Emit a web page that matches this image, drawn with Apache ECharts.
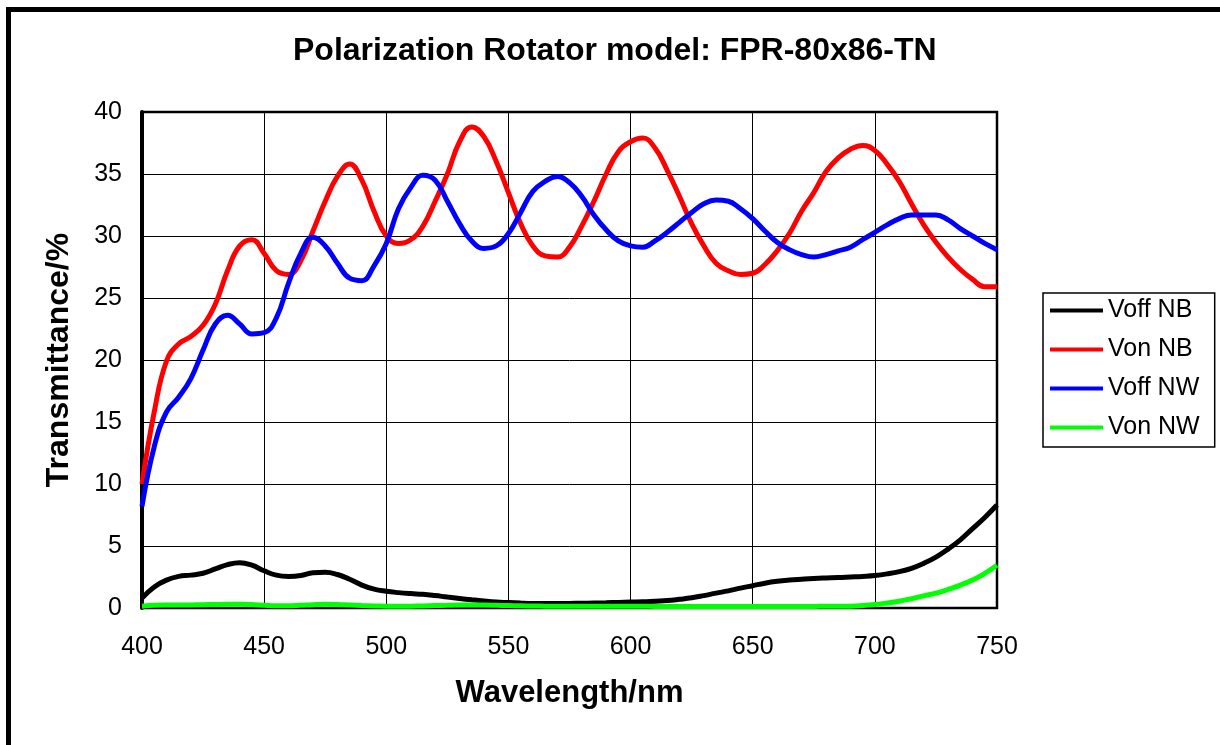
<!DOCTYPE html>
<html>
<head>
<meta charset="utf-8">
<script src="https://cdn.jsdelivr.net/npm/echarts@6/dist/echarts.min.js"></script>
<style>html,body{margin:0;padding:0;background:#fff;}#c{width:1220px;height:745px;}</style>
</head>
<body>
<div id="c"></div>
<script>
var wavelength = [400,405,410,415,420,425,430,435,440,445,450,455,460,465,470,475,480,485,490,495,500,505,510,515,520,525,530,535,540,545,550,555,560,565,570,575,580,585,590,595,600,605,610,615,620,625,630,635,640,645,650,655,660,665,670,675,680,685,690,695,700,705,710,715,720,725,730,735,740,745,750];

var voffNB = [0.8,1.7,2.25,2.55,2.65,2.8,3.15,3.5,3.65,3.45,3.0,2.65,2.55,2.62,2.85,2.88,2.7,2.32,1.85,1.52,1.35,1.24,1.16,1.1,1.0,0.88,0.77,0.66,0.56,0.48,0.44,0.4,0.37,0.36,0.36,0.37,0.38,0.4,0.42,0.45,0.48,0.5,0.55,0.6,0.7,0.82,1.0,1.2,1.38,1.6,1.8,2.0,2.15,2.25,2.32,2.38,2.42,2.45,2.5,2.55,2.62,2.75,2.93,3.2,3.6,4.1,4.75,5.5,6.4,7.3,8.3];

var vonNB = [10.0,15.8,19.9,21.3,21.9,22.8,24.5,27.2,29.2,29.7,28.6,27.2,26.9,28.0,30.4,32.8,34.8,35.8,34.5,32.0,30.0,29.4,29.7,30.8,32.8,35.0,37.6,38.8,38.0,36.0,33.5,31.0,29.2,28.4,28.3,29.1,30.8,32.8,35.0,36.8,37.6,37.9,37.1,35.3,33.2,31.0,29.2,27.8,27.2,26.9,27.0,27.7,28.8,30.2,32.0,33.5,35.2,36.3,37.0,37.3,36.9,35.8,34.4,32.6,30.9,29.5,28.3,27.3,26.5,25.9,25.9];

var voffNW = [8.2,13.0,15.8,17.0,18.5,20.8,22.9,23.6,22.9,22.1,22.2,23.4,26.2,28.6,29.9,29.2,27.8,26.6,26.4,27.6,29.4,32.2,33.9,34.9,34.5,32.8,31.0,29.6,29.0,29.2,30.2,31.9,33.6,34.4,34.8,34.3,33.2,31.7,30.5,29.6,29.2,29.1,29.6,30.3,31.1,31.9,32.6,32.9,32.8,32.2,31.4,30.4,29.5,28.9,28.5,28.3,28.5,28.8,29.1,29.7,30.3,30.9,31.4,31.7,31.7,31.7,31.3,30.6,30.0,29.4,28.9];

var vonNW = [0.15,0.22,0.25,0.25,0.25,0.27,0.28,0.3,0.3,0.28,0.22,0.18,0.18,0.22,0.27,0.3,0.28,0.24,0.2,0.17,0.15,0.14,0.15,0.17,0.2,0.22,0.24,0.24,0.24,0.22,0.2,0.18,0.16,0.15,0.14,0.14,0.14,0.14,0.14,0.14,0.14,0.14,0.13,0.13,0.13,0.13,0.13,0.13,0.13,0.13,0.13,0.13,0.13,0.13,0.13,0.13,0.14,0.14,0.15,0.2,0.28,0.4,0.55,0.75,0.98,1.2,1.5,1.85,2.25,2.8,3.45];

var seriesNames = ['Voff NB','Von NB','Voff NW','Von NW'];
var seriesColors = ['#000000','#ff0000','#0000ff','#00ff00'];
var seriesValues = [voffNB, vonNB, voffNW, vonNW];
var xTicks = {min:400, max:750, interval:50};
var yTicks = {min:0, max:40, interval:5};

function pairs(vals){ return wavelength.map(function(w,i){ return [w, vals[i]]; }); }

var chart = echarts.init(document.getElementById('c'), null, {renderer:'canvas'});
var FONT = 'Liberation Sans, Arial, sans-serif';
chart.setOption({
  animation:false,
  backgroundColor:'#ffffff',
  title:{
    text:'Polarization Rotator model: FPR-80x86-TN',
    left:288, top:30,
    textStyle:{fontFamily:FONT, fontWeight:'bold', fontSize:32, color:'#000'}
  },
  graphic:[{
    type:'rect', silent:true, z:-1,
    shape:{x:8.5, y:9.5, width:1400, height:900},
    style:{fill:null, stroke:'#000', lineWidth:5}
  }],
  legend:{
    orient:'vertical',
    left:1043, top:293,
    padding:[5,15,7,7],
    itemGap:14,
    itemWidth:53, itemHeight:4,
    icon:'rect',
    selectedMode:false,
    backgroundColor:'#fff',
    borderColor:'#000', borderWidth:1.5,
    textStyle:{fontFamily:FONT, fontSize:25, color:'#000'},
    data:seriesNames
  },
  grid:{
    left:142, right:223, top:112, bottom:137,
    show:true, borderColor:'#000', borderWidth:2.5, backgroundColor:'#fff'
  },
  xAxis:{
    type:'value', min:xTicks.min, max:xTicks.max, interval:xTicks.interval,
    name:'Wavelength/nm', nameLocation:'middle', nameGap:70,
    nameTextStyle:{fontFamily:FONT, fontWeight:'bold', fontSize:31, color:'#000'},
    axisLine:{show:true, lineStyle:{color:'#000', width:2}},
    axisTick:{show:false},
    axisLabel:{fontFamily:FONT, fontSize:25, color:'#000', margin:27},
    splitLine:{show:true, lineStyle:{color:'#000', width:1}}
  },
  yAxis:{
    type:'value', min:yTicks.min, max:yTicks.max, interval:yTicks.interval,
    name:'Transmittance/%', nameLocation:'middle', nameGap:67,
    nameTextStyle:{fontFamily:FONT, fontWeight:'bold', fontSize:32, color:'#000'},
    axisLine:{show:true, lineStyle:{color:'#000', width:4}},
    axisTick:{show:false},
    axisLabel:{fontFamily:FONT, fontSize:25, color:'#000', margin:20},
    splitLine:{show:true, lineStyle:{color:'#000', width:1}}
  },
  series: seriesNames.map(function(n,i){
    return {
      name:n, type:'line', data:pairs(seriesValues[i]),
      showSymbol:false, smooth:0.45, clip:true,
      lineStyle:{color:seriesColors[i], width:5},
      itemStyle:{color:seriesColors[i]}
    };
  })
});
</script>
</body>
</html>
